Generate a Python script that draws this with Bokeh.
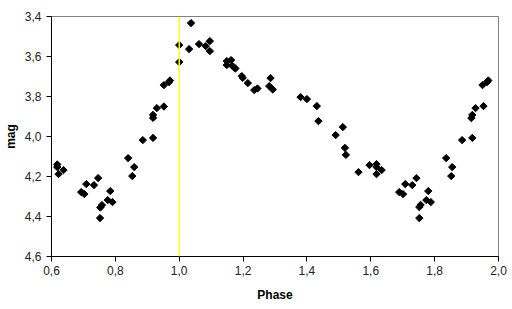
import math
from bokeh.plotting import figure
from bokeh.models import Range1d, FixedTicker, CustomJSTickFormatter, Span, ColumnDataSource
from bokeh.embed import file_html
from bokeh.resources import INLINE

phase = [0.618, 0.618, 0.622, 0.6375, 0.693, 0.703, 0.709, 0.733, 0.746,
         0.752, 0.753, 0.758, 0.776, 0.784, 0.791, 0.840, 0.853, 0.859,
         0.886, 0.918, 0.918, 0.918, 0.930, 0.952, 0.952, 0.968, 0.971,
         1.000, 1.000,
         1.031, 1.037, 1.062, 1.083, 1.096, 1.096, 1.149, 1.149, 1.1625, 1.167,
         1.176, 1.172, 1.196, 1.199, 1.215, 1.235, 1.245, 1.286, 1.282, 1.293,
         1.380, 1.400, 1.431, 1.436, 1.490, 1.5125, 1.519, 1.522, 1.5615, 1.596,
         1.618, 1.618, 1.618, 1.634, 1.689, 1.701, 1.708, 1.730, 1.743,
         1.752, 1.752, 1.756, 1.774, 1.780, 1.788, 1.836, 1.852, 1.855,
         1.886, 1.918, 1.915, 1.918, 1.928, 1.953, 1.950, 1.964, 1.968]
mag = [4.140, 4.153, 4.188, 4.168, 4.278, 4.288, 4.238, 4.243, 4.208,
       4.408, 4.355, 4.343, 4.318, 4.273, 4.328, 4.108, 4.198, 4.153,
       4.018, 4.007, 3.907, 3.892, 3.858, 3.850, 3.743, 3.728, 3.720,
       3.628, 3.543,
       3.563, 3.433, 3.538, 3.548, 3.523, 3.573, 3.623, 3.643, 3.618, 3.648,
       3.660, 3.655, 3.698, 3.707, 3.733, 3.768, 3.760, 3.708, 3.748, 3.765,
       3.803, 3.813, 3.848, 3.923, 3.993, 3.953, 4.057, 4.092, 4.178, 4.143,
       4.138, 4.153, 4.188, 4.168, 4.278, 4.288, 4.238, 4.243, 4.208,
       4.408, 4.353, 4.342, 4.318, 4.273, 4.328, 4.108, 4.198, 4.153,
       4.018, 4.007, 3.908, 3.892, 3.858, 3.848, 3.743, 3.728, 3.720]

x_ticks = [0.6, 0.8, 1.0, 1.2, 1.4, 1.6, 1.8, 2.0]
y_ticks = [3.4, 3.6, 3.8, 4.0, 4.2, 4.4, 4.6]
marker_phase = 1.0

src = ColumnDataSource(dict(x=phase, y=mag))

p = figure(width=512, height=309, output_backend="svg", toolbar_location=None,
           x_range=Range1d(0.6, 2.0), y_range=Range1d(4.6, 3.4),
           min_border_left=51, min_border_right=14, min_border_top=16, min_border_bottom=53)
p.background_fill_color = "white"
p.border_fill_color = "white"
p.outline_line_color = "#808080"
p.xgrid.visible = False
p.ygrid.visible = False

p.add_layout(Span(location=marker_phase, dimension="height", line_color="#ffff20", line_width=1.5))
p.scatter("x", "y", source=src, marker="square", angle=math.pi / 4, size=5.2, color="black")

fmt = CustomJSTickFormatter(code="return tick.toFixed(1).replace('.', ',');")
for ax, ticks in ((p.xaxis, x_ticks), (p.yaxis, y_ticks)):
    ax.ticker = FixedTicker(ticks=ticks)
    ax.formatter = fmt
    ax.axis_line_color = "black"
    ax.major_tick_line_color = "black"
    ax.major_tick_out = 5
    ax.major_tick_in = 0
    ax.minor_tick_line_color = None
    ax.major_label_text_font = "Liberation Sans"
    ax.major_label_text_font_size = "12px"
    ax.major_label_text_color = "#222222"
    ax.axis_label_text_font = "Liberation Sans"
    ax.axis_label_text_font_size = "12px"
    ax.axis_label_text_font_style = "bold"
    ax.axis_label_text_color = "black"

p.xaxis.axis_label = "Phase"
p.yaxis.axis_label = "mag"
p.xaxis.major_label_standoff = 4
p.xaxis.axis_label_standoff = 10
p.yaxis.major_label_standoff = 5
p.yaxis.axis_label_standoff = 4

open("out.html", "w").write(file_html(p, INLINE))
